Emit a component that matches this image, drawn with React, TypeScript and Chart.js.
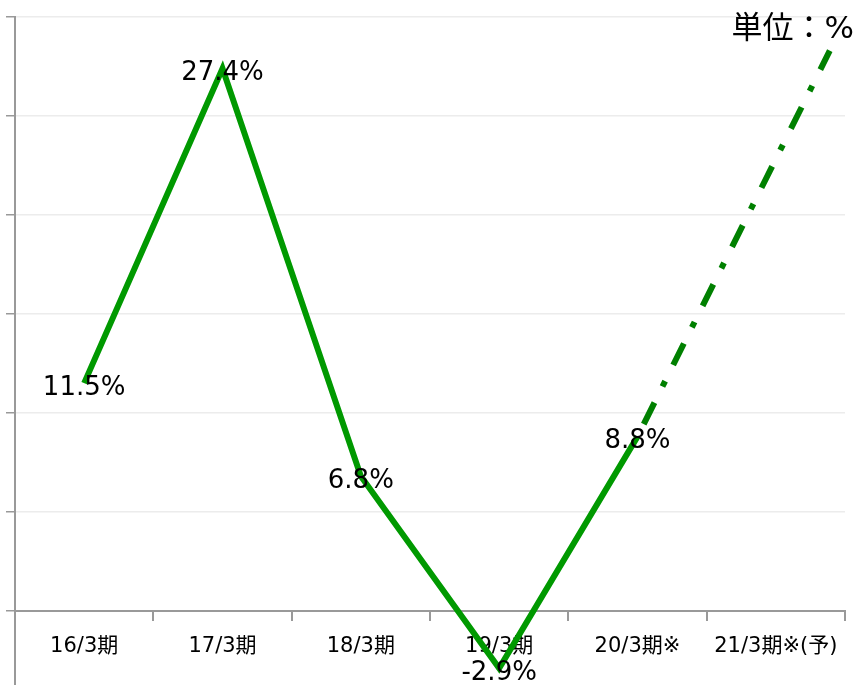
import React, { useEffect, useRef } from "react";
import { Chart, registerables } from "chart.js";

Chart.register(...registerables);

const categories = ["16/3期", "17/3期", "18/3期", "19/3期", "20/3期※", "21/3期※(予)"];
const actualValues = [11.5, 27.4, 6.8, -2.9, 8.8];
const forecastPositions = [4, 5.39];
const forecastValues = [8.8, 28.3];
const yTickValues = [0, 5, 10, 15, 20, 25, 30];
const unitLabel = "単位：%";

const FONT = '"DejaVu Sans", "Noto Sans CJK JP", sans-serif';

export default function App() {
  const ref = useRef<HTMLCanvasElement>(null);

  useEffect(() => {
    document.body.style.margin = "0";
    const canvas = ref.current;
    if (!canvas) return;

    const labelPlugin = {
      id: "valueLabels",
      afterDatasetsDraw(chart: any) {
        const ctx = chart.ctx;
        const meta = chart.getDatasetMeta(0);
        ctx.save();
        ctx.font = `26px ${FONT}`;
        ctx.fillStyle = "#000";
        ctx.textAlign = "center";
        ctx.textBaseline = "middle";
        meta.data.forEach((pt: any, i: number) => {
          ctx.fillText(`${actualValues[i].toFixed(1)}%`, pt.x, pt.y + 5);
        });
        ctx.font = `31px ${FONT}`;
        ctx.textAlign = "right";
        ctx.fillText(unitLabel, chart.width + 1, 30);
        ctx.restore();
      },
    };

    const chart = new Chart(canvas, {
      type: "line",
      data: {
        labels: categories,
        datasets: [
          {
            data: actualValues.map((v, i) => ({ x: i, y: v })),
            xAxisID: "xl",
            yAxisID: "y",
            borderColor: "#009900",
            borderWidth: 6,
            pointRadius: 0,
            tension: 0,
            fill: false,
          },
          {
            data: forecastPositions.map((p, i) => ({ x: p, y: forecastValues[i] })),
            xAxisID: "xl",
            yAxisID: "y",
            borderColor: "#008000",
            borderWidth: 6,
            borderDash: [24, 18, 6, 18],
            borderDashOffset: 52,
            pointRadius: 0,
            tension: 0,
            fill: false,
          },
        ],
      },
      options: {
        animation: false,
        responsive: true,
        maintainAspectRatio: false,
        layout: { padding: { top: 17, right: 8, left: 0, bottom: 0 } },
        plugins: { legend: { display: false }, tooltip: { enabled: false } },
        scales: {
          x: {
            type: "category",
            labels: categories,
            position: { y: 0 } as any,
            offset: true,
            grid: {
              offset: true,
              drawOnChartArea: false,
              drawTicks: true,
              tickLength: 9,
              tickColor: "#999",
              lineWidth: 2,
            },
            border: { color: "#999", width: 2 },
            ticks: {
              color: "#000",
              font: { size: 21, family: FONT },
              padding: 14,
              maxRotation: 0,
              autoSkip: false,
            },
          },
          xl: { type: "linear", min: -0.5, max: 5.5, display: false },
          y: {
            type: "linear",
            position: "left",
            min: -3.75,
            max: 30,
            afterBuildTicks: (ax: any) => {
              ax.ticks = yTickValues.map((v) => ({ value: v }));
            },
            afterFit: (ax: any) => {
              ax.width = 15;
            },
            grid: {
              color: "#ececec",
              lineWidth: 1.5,
              drawTicks: true,
              tickLength: 9,
              tickColor: "#999",
            },
            border: { color: "#999", width: 2 },
            ticks: { display: false },
          },
        },
      },
      plugins: [labelPlugin],
    });

    return () => chart.destroy();
  }, []);

  return (
    <div style={{ position: "absolute", left: 0, top: 0, width: 853, height: 685 }}>
      <canvas ref={ref} />
    </div>
  );
}
